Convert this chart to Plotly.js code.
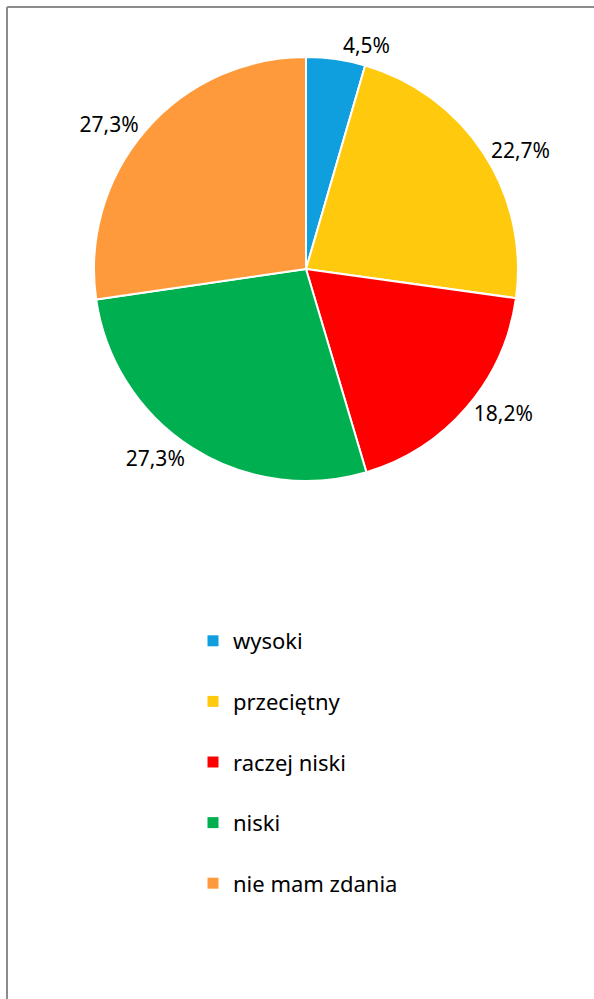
<!DOCTYPE html>
<html>
<head>
<meta charset="utf-8">
<script src="https://cdn.plot.ly/plotly-3.0.1.min.js"></script>
<style>html,body{margin:0;padding:0;background:#fff;}#chart{width:594px;height:999px;}</style>
</head>
<body>
<div id="chart"></div>
<script>
const categories = ["wysoki", "przeciętny", "raczej niski", "niski", "nie mam zdania"];
const values = [4.5, 22.7, 18.2, 27.3, 27.3];
const colors = ["#0f9ede", "#ffc90e", "#ff0000", "#00b050", "#ff9a3c"];

const FONT = "'Noto Sans', 'Open Sans', sans-serif";

const traces = [{
  type: "pie",
  labels: categories,
  values: values,
  sort: false,
  direction: "clockwise",
  rotation: 0,
  marker: {colors: colors, line: {color: "#ffffff", width: 2}},
  texttemplate: "%{percent:.1%}",
  textposition: "outside",
  textfont: {family: FONT, size: 21, color: "#000000"},
  showlegend: false,
  hoverinfo: "label+percent",
  domain: {x: [94/594, 518/594], y: [1 - 481/999, 1 - 57/999]}
}];

categories.forEach((c, i) => {
  traces.push({
    type: "scatter",
    mode: "markers",
    x: [null], y: [null],
    name: c,
    legendgroup: "g" + i,
    marker: {symbol: "square", size: 11, color: colors[i]},
    showlegend: true
  });
});

const layout = {
  width: 594, height: 999,
  margin: {l: 0, r: 0, t: 0, b: 0},
  paper_bgcolor: "#ffffff",
  plot_bgcolor: "#ffffff",
  separators: ", ",
  xaxis: {visible: false},
  yaxis: {visible: false},
  legend: {
    x: 193/594, xanchor: "left",
    y: 1 - 620/999, yanchor: "top",
    font: {family: FONT, size: 22, color: "#000000"},
    tracegroupgap: 29,
    bgcolor: "rgba(0,0,0,0)"
  },
  shapes: [
    {type: "line", xref: "paper", yref: "paper", x0: 7/594, x1: 1, y0: 1 - 7/999, y1: 1 - 7/999, line: {color: "#8c8c8c", width: 2}},
    {type: "line", xref: "paper", yref: "paper", x0: 7/594, x1: 7/594, y0: 0, y1: 1 - 7/999, line: {color: "#8c8c8c", width: 2}}
  ]
};

Plotly.newPlot("chart", traces, layout, {displayModeBar: false, staticPlot: true});
</script>
</body>
</html>
